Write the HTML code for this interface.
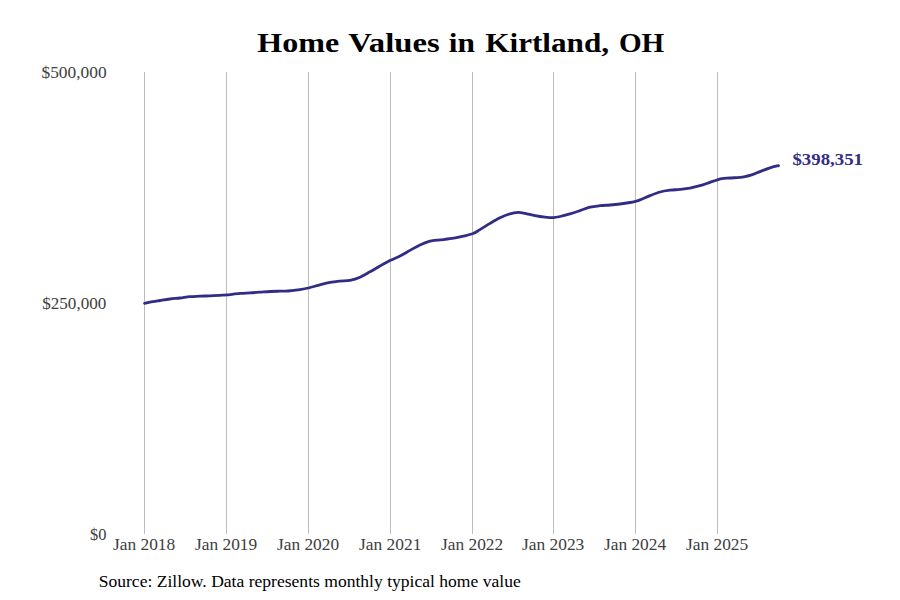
<!DOCTYPE html>
<html><head><meta charset="utf-8"><style>
html,body{margin:0;padding:0;background:#fff;overflow:hidden;}
svg{display:block;}
text{font-family:"Liberation Serif",serif;}
</style></head><body>
<svg width="900" height="600" viewBox="0 0 900 600">
<rect width="900" height="600" fill="#fff"/>
<g stroke="#bdbdbd" stroke-width="1" shape-rendering="crispEdges">
<line x1="144.5" y1="72" x2="144.5" y2="534"/>
<line x1="226.5" y1="72" x2="226.5" y2="534"/>
<line x1="308.5" y1="72" x2="308.5" y2="534"/>
<line x1="390.5" y1="72" x2="390.5" y2="534"/>
<line x1="472.5" y1="72" x2="472.5" y2="534"/>
<line x1="553.5" y1="72" x2="553.5" y2="534"/>
<line x1="635.5" y1="72" x2="635.5" y2="534"/>
<line x1="717.5" y1="72" x2="717.5" y2="534"/>
</g>
<path d="M144.50,303.30 C145.42,303.10 147.42,302.57 150.00,302.10 C152.58,301.63 156.67,301.02 160.00,300.50 C163.33,299.98 166.67,299.42 170.00,299.00 C173.33,298.58 176.67,298.40 180.00,298.00 C183.33,297.60 186.67,296.90 190.00,296.60 C193.33,296.30 196.67,296.33 200.00,296.20 C203.33,296.07 206.67,295.95 210.00,295.80 C213.33,295.65 217.25,295.45 220.00,295.30 C222.75,295.15 223.17,295.22 226.50,294.90 C229.83,294.58 236.08,293.73 240.00,293.40 C243.92,293.07 246.67,293.10 250.00,292.90 C253.33,292.70 256.67,292.43 260.00,292.20 C263.33,291.97 266.67,291.67 270.00,291.50 C273.33,291.33 277.00,291.28 280.00,291.20 C283.00,291.12 284.67,291.27 288.00,291.00 C291.33,290.73 296.58,290.10 300.00,289.60 C303.42,289.10 305.17,288.80 308.50,288.00 C311.83,287.20 316.42,285.73 320.00,284.80 C323.58,283.87 326.67,283.02 330.00,282.40 C333.33,281.78 336.67,281.45 340.00,281.10 C343.33,280.75 346.67,280.95 350.00,280.30 C353.33,279.65 356.67,278.62 360.00,277.20 C363.33,275.78 366.67,273.67 370.00,271.80 C373.33,269.93 376.58,267.92 380.00,266.00 C383.42,264.08 387.17,261.97 390.50,260.30 C393.83,258.63 396.75,257.65 400.00,256.00 C403.25,254.35 406.67,252.25 410.00,250.40 C413.33,248.55 416.67,246.45 420.00,244.90 C423.33,243.35 426.67,241.93 430.00,241.10 C433.33,240.27 436.67,240.30 440.00,239.90 C443.33,239.50 446.67,239.20 450.00,238.70 C453.33,238.20 456.25,237.73 460.00,236.90 C463.75,236.07 469.17,234.92 472.50,233.70 C475.83,232.48 477.08,231.32 480.00,229.60 C482.92,227.88 486.67,225.37 490.00,223.40 C493.33,221.43 496.67,219.40 500.00,217.80 C503.33,216.20 507.00,214.70 510.00,213.80 C513.00,212.90 515.50,212.48 518.00,212.40 C520.50,212.32 522.17,212.77 525.00,213.30 C527.83,213.83 531.67,214.97 535.00,215.60 C538.33,216.23 541.92,216.77 545.00,217.10 C548.08,217.43 551.00,217.70 553.50,217.60 C556.00,217.50 557.25,217.13 560.00,216.50 C562.75,215.87 566.67,214.78 570.00,213.80 C573.33,212.82 576.67,211.70 580.00,210.60 C583.33,209.50 586.67,208.02 590.00,207.20 C593.33,206.38 596.67,206.07 600.00,205.70 C603.33,205.33 606.67,205.28 610.00,205.00 C613.33,204.72 616.67,204.42 620.00,204.00 C623.33,203.58 627.42,202.95 630.00,202.50 C632.58,202.05 633.83,201.73 635.50,201.30 C637.17,200.87 637.58,200.85 640.00,199.90 C642.42,198.95 646.67,196.92 650.00,195.60 C653.33,194.28 656.67,192.90 660.00,192.00 C663.33,191.10 666.67,190.63 670.00,190.20 C673.33,189.77 676.67,189.75 680.00,189.40 C683.33,189.05 686.67,188.72 690.00,188.10 C693.33,187.48 696.67,186.67 700.00,185.70 C703.33,184.73 707.08,183.28 710.00,182.30 C712.92,181.32 715.50,180.42 717.50,179.80 C719.50,179.18 719.92,178.90 722.00,178.60 C724.08,178.30 727.00,178.22 730.00,178.00 C733.00,177.78 737.50,177.53 740.00,177.30 C742.50,177.07 743.33,176.92 745.00,176.60 C746.67,176.28 748.33,175.90 750.00,175.40 C751.67,174.90 753.33,174.23 755.00,173.60 C756.67,172.97 757.50,172.55 760.00,171.60 C762.50,170.65 766.92,168.90 770.00,167.90 C773.08,166.90 777.08,165.98 778.50,165.60" fill="none" stroke="#322d84" stroke-width="2.8" stroke-linejoin="round" stroke-linecap="round"/>
<text x="257.25" y="51.70" font-size="27" font-weight="bold" fill="#000" textLength="81.89" lengthAdjust="spacingAndGlyphs">Home</text>
<text x="348.22" y="51.70" font-size="27" font-weight="bold" fill="#000" textLength="91.46" lengthAdjust="spacingAndGlyphs">Values</text>
<text x="448.82" y="51.70" font-size="27" font-weight="bold" fill="#000" textLength="26.17" lengthAdjust="spacingAndGlyphs">in</text>
<text x="485.24" y="51.70" font-size="27" font-weight="bold" fill="#000" textLength="123.80" lengthAdjust="spacingAndGlyphs">Kirtland,</text>
<text x="618.96" y="51.70" font-size="27" font-weight="bold" fill="#000" textLength="45.31" lengthAdjust="spacingAndGlyphs">OH</text>
<text x="41.50" y="77.50" font-size="16.2" font-weight="normal" fill="#404040" textLength="65.10" lengthAdjust="spacingAndGlyphs">$500,000</text>
<text x="42.24" y="308.50" font-size="16.2" font-weight="normal" fill="#404040" textLength="64.10" lengthAdjust="spacingAndGlyphs">$250,000</text>
<text x="89.94" y="539.50" font-size="16.2" font-weight="normal" fill="#404040" textLength="16.40" lengthAdjust="spacingAndGlyphs">$0</text>
<text x="113.00" y="549.50" font-size="16.2" font-weight="normal" fill="#404040" textLength="62.24" lengthAdjust="spacingAndGlyphs">Jan 2018</text>
<text x="195.00" y="549.50" font-size="16.2" font-weight="normal" fill="#404040" textLength="62.18" lengthAdjust="spacingAndGlyphs">Jan 2019</text>
<text x="277.00" y="549.50" font-size="16.2" font-weight="normal" fill="#404040" textLength="62.12" lengthAdjust="spacingAndGlyphs">Jan 2020</text>
<text x="359.00" y="549.50" font-size="16.2" font-weight="normal" fill="#404040" textLength="62.37" lengthAdjust="spacingAndGlyphs">Jan 2021</text>
<text x="441.00" y="549.50" font-size="16.2" font-weight="normal" fill="#404040" textLength="62.19" lengthAdjust="spacingAndGlyphs">Jan 2022</text>
<text x="522.00" y="549.50" font-size="16.2" font-weight="normal" fill="#404040" textLength="62.28" lengthAdjust="spacingAndGlyphs">Jan 2023</text>
<text x="604.00" y="549.50" font-size="16.2" font-weight="normal" fill="#404040" textLength="62.13" lengthAdjust="spacingAndGlyphs">Jan 2024</text>
<text x="686.00" y="549.50" font-size="16.2" font-weight="normal" fill="#404040" textLength="62.24" lengthAdjust="spacingAndGlyphs">Jan 2025</text>
<text x="792.43" y="164.80" font-size="15.8" font-weight="bold" fill="#322d84" textLength="70.53" lengthAdjust="spacingAndGlyphs">$398,351</text>
<text x="98.68" y="587.00" font-size="16.6" font-weight="normal" fill="#000" textLength="422.06" lengthAdjust="spacingAndGlyphs">Source: Zillow. Data represents monthly typical home value</text>
</svg>
</body></html>
